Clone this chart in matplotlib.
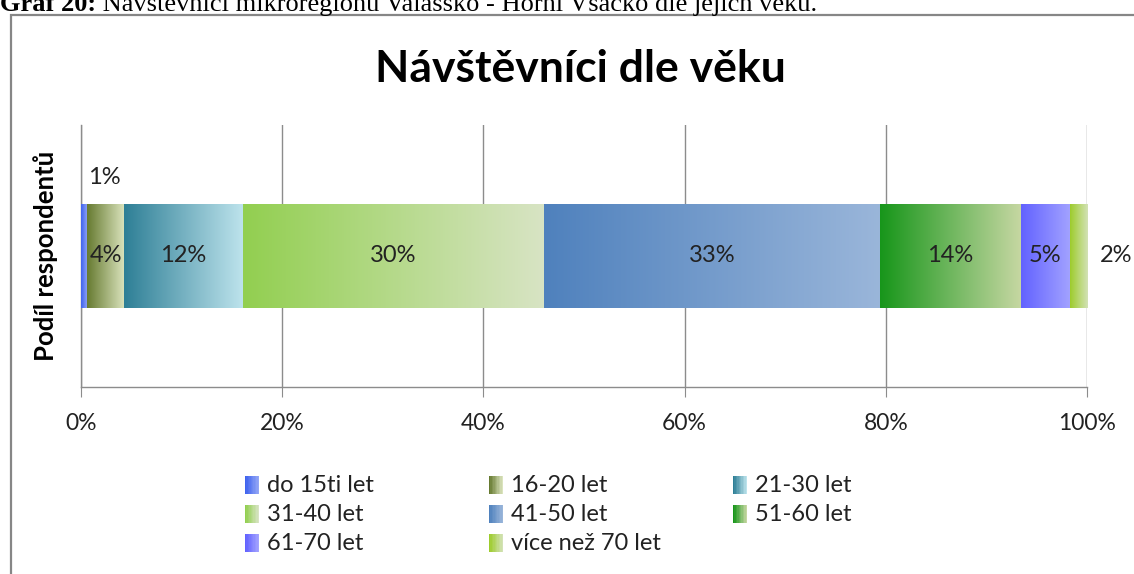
import numpy as np
import matplotlib
matplotlib.use("Agg")
import matplotlib.pyplot as plt
from matplotlib.colors import to_rgb
from matplotlib.patches import Rectangle
from matplotlib.legend_handler import HandlerBase
from matplotlib.ticker import PercentFormatter

# ---- data ----
categories = ["do 15ti let", "16-20 let", "21-30 let", "31-40 let",
              "41-50 let", "51-60 let", "61-70 let", "více než 70 let"]
shares = [0.6, 3.7, 11.8, 29.9, 33.4, 14.0, 4.9, 1.7]
labels = ["1%", "4%", "12%", "30%", "33%", "14%", "5%", "2%"]
bar_name = "Podíl respondentů"
title = "Návštěvníci dle věku"
caption_bold = "Graf 20:"
caption = " Návštěvníci mikroregionu Valašsko - Horní Vsacko dle jejich věku."
xticks = [0, 20, 40, 60, 80, 100]

# gradient start / end colours per category
grad_start = ["#3f63ee", "#667a30", "#2e7f96", "#92cf50", "#4f81bd", "#17961a", "#6262ff", "#9dcc2c"]
grad_end = ["#93a6f6", "#dbe4be", "#bde3ec", "#d8e4c4", "#9ab6da", "#c6d7a2", "#a3a3ff", "#d3e2b6"]

FONT = "Lato"
TXT = "#222222"
W, H = 1134, 574
fig = plt.figure(figsize=(W / 100, H / 100), dpi=100)

# outer chart border
fig.patches.append(Rectangle((11 / W, -0.05), 1.2, 1 - 15 / H + 0.05, transform=fig.transFigure,
                             fill=False, edgecolor="#868686", linewidth=1.6, zorder=0))

# caption (cut off at top)
r = fig.canvas.get_renderer()
t1 = fig.text(0, 1 - 11 / H, caption_bold, fontsize=19, fontweight="bold",
              family="Liberation Serif", va="baseline", ha="left")
bb = t1.get_window_extent(renderer=r)
fig.text(bb.x1 / W, 1 - 11 / H, caption, fontsize=19, family="Liberation Serif",
         va="baseline", ha="left")

ax = fig.add_axes([81 / W, 1 - 387 / H, (1087 - 81) / W, (387 - 125) / H])

fig.text(580 / W, 1 - 69 / H, title, fontsize=32, fontweight="bold", family=FONT,
         ha="center", va="center")

lefts = np.concatenate([[0], np.cumsum(shares)[:-1]])
bars = ax.barh(np.zeros(len(shares)), shares, left=lefts, height=0.4,
               color="none", edgecolor="none", zorder=3)

for i, p in enumerate(bars.patches):
    c0 = np.array(to_rgb(grad_start[i]))
    c1 = np.array(to_rgb(grad_end[i]))
    t = np.linspace(0, 1, 256)[None, :, None]
    img = c0[None, None, :] * (1 - t) + c1[None, None, :] * t
    x0, y0 = p.get_x(), p.get_y()
    im = ax.imshow(img, extent=[x0, x0 + p.get_width(), y0, y0 + p.get_height()],
                   aspect="auto", zorder=3, interpolation="bilinear")
    im.set_clip_path(p)

ax.set_xlim(0, 100)
ax.set_ylim(-0.5, 0.5)
ax.set_xticks(xticks)
ax.xaxis.set_major_formatter(PercentFormatter(decimals=0))
ax.set_yticks([])
ax.set_ylabel(bar_name, family=FONT, fontweight="bold", fontsize=18.5, va="center")
ax.yaxis.set_label_coords((46 - 81) / (1087 - 81), 0.5)
ax.grid(axis="x", color="#8c8c8c", linewidth=1.0, zorder=0)
ax.set_axisbelow(True)
for s in ["top", "right"]:
    ax.spines[s].set_visible(False)
for s in ["left", "bottom"]:
    ax.spines[s].set_color("#8c8c8c")
    ax.spines[s].set_linewidth(1.0)
ax.tick_params(axis="x", length=7, color="#8c8c8c", labelsize=16.5, pad=12, labelcolor=TXT)
for lab in ax.get_xticklabels():
    lab.set_family(FONT)

# data labels
LS = 17
for i, p in enumerate(bars.patches):
    cx = p.get_x() + p.get_width() / 2
    if i == 0:
        ax.text(cx + 2.0, 0.3, labels[i], ha="center", va="center", fontsize=LS,
                family=FONT, color=TXT)
    elif i == len(shares) - 1:
        ax.text(p.get_x() + p.get_width() + 2.9, 0, labels[i], ha="center", va="center",
                fontsize=LS, family=FONT, color=TXT)
    else:
        ax.text(cx, 0, labels[i], ha="center", va="center", fontsize=LS,
                family=FONT, color=TXT, zorder=5)


class GradHandler(HandlerBase):
    def __init__(self, c0, c1):
        super().__init__()
        self.c0, self.c1 = np.array(to_rgb(c0)), np.array(to_rgb(c1))

    def create_artists(self, legend, orig_handle, xdescent, ydescent, width, height, fontsize, trans):
        n = 10
        w = 10.0
        h = 13.0
        x0 = 0
        y0 = (height - h) / 2 - 1
        arts = []
        for k in range(n):
            t = k / (n - 1)
            col = self.c0 * (1 - t) + self.c1 * t
            arts.append(Rectangle((x0 + k * w / n, y0), w / n + 0.05, h, facecolor=col,
                                  edgecolor="none", transform=trans))
        return arts


handles = [Rectangle((0, 0), 1, 1) for _ in categories]
hmap = {h: GradHandler(grad_start[i], grad_end[i]) for i, h in enumerate(handles)}
columns = [[0, 3, 6], [1, 4, 7], [2, 5]]
col_x = [245, 489, 733]
for cx, idx in zip(col_x, columns):
    leg = fig.legend([handles[i] for i in idx], [categories[i] for i in idx],
                     handler_map=hmap, ncol=1, loc="upper left",
                     bbox_to_anchor=(cx / W, 1 - 475 / H), frameon=False,
                     prop={"family": FONT, "size": 17}, handlelength=0.45,
                     handletextpad=0.47, labelspacing=0.33,
                     borderpad=0, borderaxespad=0)
    for t in leg.get_texts():
        t.set_color(TXT)

fig.savefig("out.png", dpi=100)
